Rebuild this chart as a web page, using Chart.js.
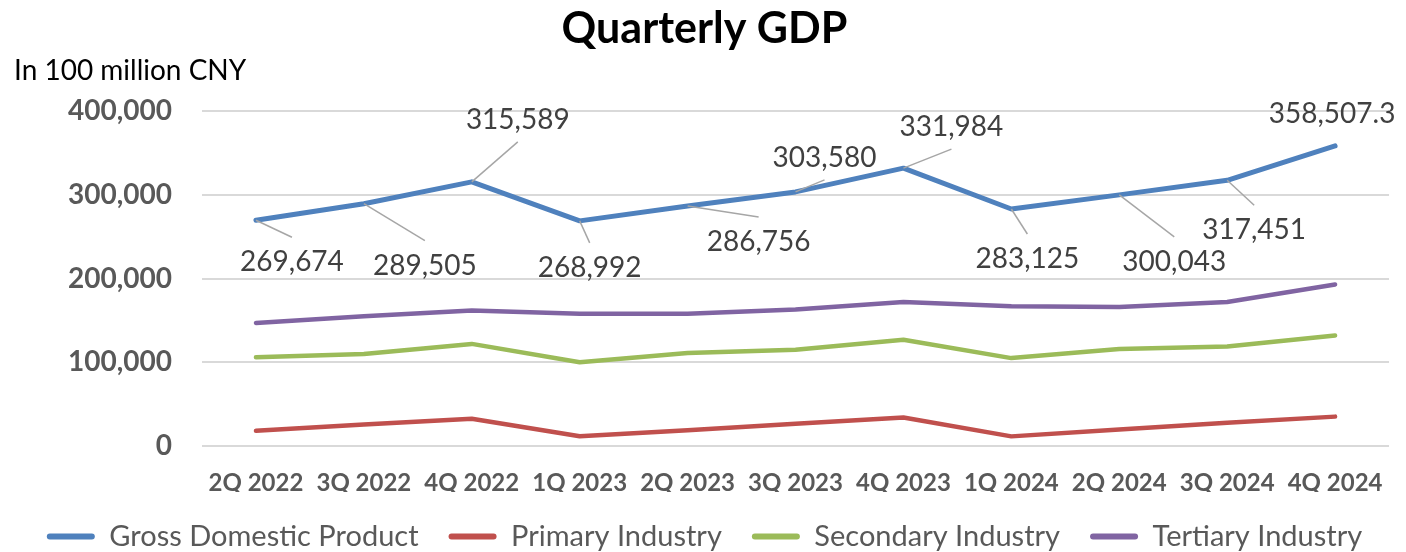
<!DOCTYPE html>
<html lang="en">
<head>
    <meta charset="UTF-8">
    <title>Quarterly GDP</title>
    <script src="https://cdn.jsdelivr.net/npm/chart.js"></script>
    <style>
        html, body { margin: 0; padding: 0; background: #fff; overflow: hidden; }
        .wrap { width: 1406px; height: 561px; position: relative; }
    </style>
</head>
<body>
    <div class="wrap">
        <canvas id="gdpChart"></canvas>
    </div>

    <script>
        const quarters = ['2Q 2022', '3Q 2022', '4Q 2022', '1Q 2023', '2Q 2023', '3Q 2023',
                          '4Q 2023', '1Q 2024', '2Q 2024', '3Q 2024', '4Q 2024'];
        const gdp = [269674, 289505, 315589, 268992, 286756, 303580, 331984, 283125, 300043, 317451, 358507.3];
        const primary = [18200, 25600, 32500, 11600, 18800, 26600, 34000, 11500, 19600, 27700, 35100];
        const secondary = [106000, 110000, 122000, 100000, 111000, 115000, 127000, 105000, 116000, 119000, 132000];
        const tertiary = [147000, 155000, 162000, 158000, 158000, 163000, 172000, 167000, 166000, 172000, 193000];
        const yTicks = [0, 100000, 200000, 300000, 400000];

        // where each GDP label sits relative to its point (px), and whether it gets a leader line
        const labelOffsets = [[36, 42], [61, 62], [46, -62], [10, 47], [71, 36], [29, -34],
                              [48, -41], [16, 50], [55, 67], [27, 50], [-3, -32]];
        const showLeader = [true, true, true, true, true, true, true, true, true, true, false];

        const FONT = 'Lato, "Open Sans", sans-serif';
        const GREY = '#595959';

        function fmt(v) {
            return v.toLocaleString('en-US', { maximumFractionDigits: 1 });
        }

        // GDP value labels with grey leader lines
        const gdpLabels = {
            id: 'gdpLabels',
            afterDatasetsDraw(chart) {
                const ctx = chart.ctx;
                const meta = chart.getDatasetMeta(0);
                ctx.save();
                ctx.font = '28px ' + FONT;
                ctx.fillStyle = '#404040';
                ctx.textAlign = 'center';
                ctx.textBaseline = 'middle';
                ctx.strokeStyle = '#a6a6a6';
                ctx.lineWidth = 1.5;
                meta.data.forEach((pt, i) => {
                    const [dx, dy] = labelOffsets[i];
                    const lx = pt.x + dx;
                    const ly = pt.y + dy;
                    if (showLeader[i]) {
                        ctx.beginPath();
                        ctx.moveTo(pt.x, pt.y);
                        ctx.lineTo(lx, dy > 0 ? ly - 25 : ly + 22);
                        ctx.stroke();
                    }
                    ctx.fillText(fmt(gdp[i]), lx, ly);
                });
                ctx.restore();
            }
        };

        function series(label, data, color, width) {
            return {
                label: label,
                data: data,
                borderColor: color,
                backgroundColor: color,
                borderWidth: width,
                borderCapStyle: 'round',
                borderJoinStyle: 'round',
                pointRadius: 0,
                pointHoverRadius: 0,
                tension: 0,
                fill: false
            };
        }

        const ctx = document.getElementById('gdpChart').getContext('2d');
        const gdpChart = new Chart(ctx, {
            type: 'line',
            data: {
                labels: quarters,
                datasets: [
                    series('Gross Domestic Product', gdp, '#4f81bd', 5),
                    series('Primary Industry', primary, '#c0504d', 4.5),
                    series('Secondary Industry', secondary, '#9bbb59', 4.5),
                    series('Tertiary Industry', tertiary, '#8064a2', 4.5)
                ]
            },
            options: {
                responsive: true,
                maintainAspectRatio: false,
                animation: false,
                layout: { padding: { left: 14, right: 11, top: 0, bottom: 0 } },
                scales: {
                    x: {
                        offset: true,
                        grid: { display: false, drawTicks: false },
                        border: { display: false },
                        ticks: {
                            color: GREY,
                            padding: 23,
                            maxRotation: 0,
                            autoSkip: false,
                            font: { family: FONT, size: 24, weight: 'bold' }
                        },
                        afterFit(scale) { scale.height = 46; }
                    },
                    y: {
                        min: 0,
                        max: 400000,
                        afterBuildTicks(scale) {
                            scale.ticks = yTicks.map(v => ({ value: v }));
                        },
                        grid: { color: '#d9d9d9', lineWidth: 2, drawTicks: false },
                        border: { display: false },
                        ticks: {
                            color: GREY,
                            padding: 30,
                            font: { family: FONT, size: 28, weight: 'bold' },
                            callback: v => fmt(v)
                        },
                        afterFit(scale) { scale.width = 188; }
                    }
                },
                plugins: {
                    title: {
                        display: true,
                        text: 'Quarterly GDP',
                        color: '#000',
                        font: { family: FONT, size: 43, weight: 'bold' },
                        padding: { top: 3, bottom: 0 }
                    },
                    subtitle: {
                        display: true,
                        text: 'In 100 million CNY',
                        align: 'start',
                        color: '#000',
                        font: { family: FONT, size: 28 },
                        padding: { top: 0, bottom: 23 }
                    },
                    legend: {
                        position: 'bottom',
                        labels: {
                            color: GREY,
                            boxWidth: 48,
                            boxHeight: 6,
                            padding: 30,
                            useBorderRadius: true,
                            borderRadius: 3,
                            font: { family: FONT, size: 29 },
                            generateLabels(chart) {
                                return Chart.defaults.plugins.legend.labels.generateLabels(chart)
                                    .map(item => Object.assign(item, { lineWidth: 0 }));
                            }
                        }
                    },
                    tooltip: { enabled: false }
                }
            },
            plugins: [gdpLabels]
        });
    </script>
</body>
</html>
